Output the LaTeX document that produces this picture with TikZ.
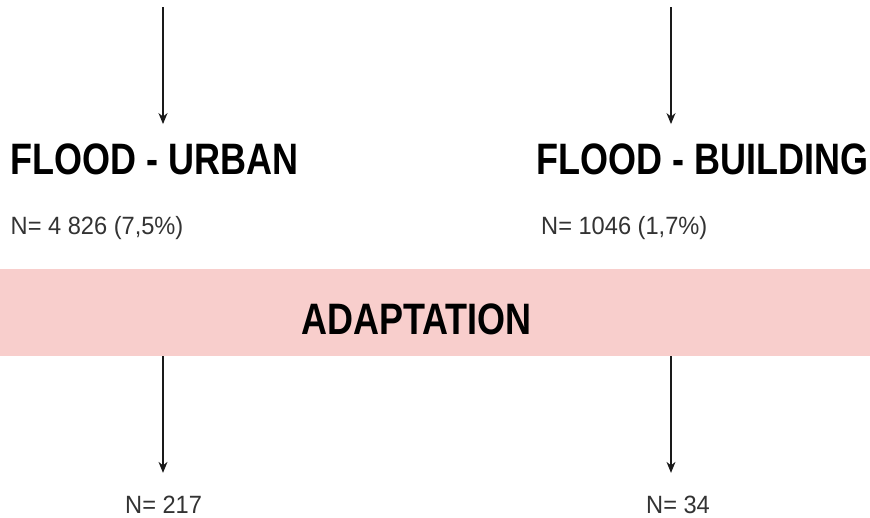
\documentclass[tikz,border=0pt]{standalone}
\usepackage{fontspec}
\setmainfont{Liberation Sans}
\newfontfamily\headfont[FakeStretch=0.818]{Liberation Sans Bold}
\newfontfamily\countfont[FakeStretch=0.945]{Liberation Sans}
\usetikzlibrary{arrows.meta}
\definecolor{bandpink}{HTML}{F8CECC}
\definecolor{countgray}{HTML}{333333}
\definecolor{flowgray}{HTML}{1A1A1A}

\begin{document}
\begin{tikzpicture}[x=1pt,y=-1pt,
  heading/.style={font=\headfont\fontsize{44}{44}\selectfont, inner sep=0pt, anchor=base west, text=black},
  count/.style={font=\countfont\fontsize{25}{25}\selectfont, inner sep=0pt, anchor=base west, text=countgray},
  band/.style={fill=bandpink, draw=none, inner sep=0pt, anchor=north west},
  flow/.style={draw=flowgray, line width=1.3pt, -{Stealth[length=11pt,width=9pt]}}
]
\useasboundingbox (0,0) rectangle (870,517);

% pink adaptation band
\node[band, minimum width=870pt, minimum height=87pt] (band) at (0,269) {};
\node[heading] (adapt) at (301,334) {ADAPTATION};

% the two flood categories
\node[heading] (urban) at (10,174) {FLOOD - URBAN};
\node[heading] (building) at (536,174) {FLOOD - BUILDING};
\node[count] (nurban) at (10.5,234) {N= 4 826 (7,5\%)};
\node[count] (nbuilding) at (541,234) {N= 1046 (1,7\%)};

% counts after adaptation
\node[count] (aurban) at (125,513.5) {N= 217};
\node[count] (abuilding) at (646,513.5) {N= 34};

% incoming flows
\coordinate (inU) at (163,7);
\coordinate (inB) at (671,7);
\draw[flow, shorten >=19pt] (inU) -- (inU |- urban.north);
\draw[flow, shorten >=19pt] (inB) -- (inB |- building.north);

% flows out of the band
\draw[flow, shorten >=23pt] (band.south -| inU) -- (aurban.north -| inU);
\draw[flow, shorten >=23pt] (band.south -| inB) -- (abuilding.north -| inB);
\end{tikzpicture}
\end{document}
